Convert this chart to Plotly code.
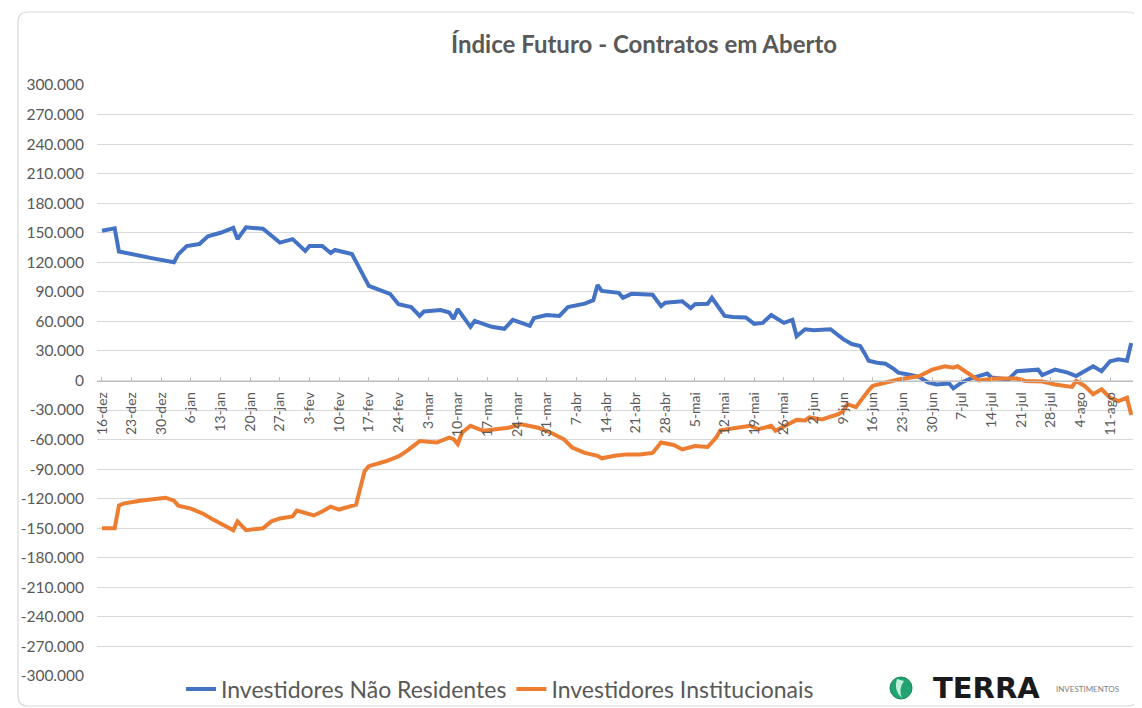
import plotly.graph_objects as go

# ---------------- data ----------------
dates_nr = [
    "2020-12-16", "2020-12-18", "2020-12-19", "2020-12-20", "2020-12-21", "2020-12-25", "2020-12-28",
    "2021-01-02", "2021-01-03", "2021-01-05", "2021-01-08", "2021-01-10", "2021-01-13", "2021-01-16",
    "2021-01-17", "2021-01-19", "2021-01-23", "2021-01-27", "2021-01-30", "2021-02-02", "2021-02-03",
    "2021-02-06", "2021-02-08", "2021-02-09", "2021-02-13", "2021-02-17", "2021-02-20", "2021-02-22",
    "2021-02-24", "2021-02-27", "2021-03-01", "2021-03-02", "2021-03-06", "2021-03-08", "2021-03-09",
    "2021-03-10", "2021-03-13", "2021-03-14", "2021-03-18", "2021-03-21", "2021-03-23", "2021-03-27",
    "2021-03-28", "2021-03-31", "2021-04-03", "2021-04-05", "2021-04-09", "2021-04-11", "2021-04-12",
    "2021-04-13", "2021-04-17", "2021-04-18", "2021-04-20", "2021-04-25", "2021-04-27", "2021-04-28",
    "2021-05-02", "2021-05-04", "2021-05-05", "2021-05-08", "2021-05-09", "2021-05-12", "2021-05-14",
    "2021-05-17", "2021-05-19", "2021-05-21", "2021-05-23", "2021-05-26", "2021-05-28", "2021-05-29",
    "2021-05-31", "2021-06-02", "2021-06-06", "2021-06-09", "2021-06-11", "2021-06-13", "2021-06-14",
    "2021-06-15", "2021-06-17", "2021-06-19", "2021-06-21", "2021-06-22", "2021-06-25", "2021-06-27",
    "2021-06-29", "2021-07-01", "2021-07-04", "2021-07-05", "2021-07-07", "2021-07-09", "2021-07-11",
    "2021-07-13", "2021-07-14", "2021-07-18", "2021-07-20", "2021-07-25", "2021-07-26", "2021-07-29",
    "2021-08-01", "2021-08-03", "2021-08-07", "2021-08-09", "2021-08-11", "2021-08-13", "2021-08-15",
    "2021-08-16",
]
vals_nr = [
    152000, 153500, 154500, 131000, 130000, 126000, 124000,
    120000, 128000, 136500, 138500, 146500, 150000, 155000,
    143500, 155500, 154000, 140000, 143500, 131500, 136500,
    136500, 129500, 132500, 128500, 96000, 91000, 88000,
    77500, 74500, 65500, 70000, 71500, 69000, 62500,
    72500, 54500, 60500, 54500, 52500, 61500, 55500,
    63500, 66500, 65500, 74500, 78000, 81500, 97000,
    91000, 89000, 84000, 88000, 87000, 75500, 79000,
    80500, 73500, 77500, 78000, 84000, 65500, 64500,
    64000, 57500, 58500, 66500, 58500, 61500, 45000,
    52000, 51000, 52000, 42000, 37000, 35000, 28000,
    20000, 18000, 17000, 11500, 8000, 5500, 3500,
    -2000, -4000, -3000, -8000, -2000, 2000, 4500,
    7000, 3000, 1000, 9500, 11000, 5500, 11000,
    8000, 4500, 14500, 9500, 19500, 21500, 20000,
    38000,
]

dates_inst = [
    "2020-12-16", "2020-12-18", "2020-12-19", "2020-12-20", "2020-12-21", "2020-12-25", "2020-12-31",
    "2021-01-02", "2021-01-03", "2021-01-06", "2021-01-09", "2021-01-11", "2021-01-13", "2021-01-16",
    "2021-01-17", "2021-01-19", "2021-01-23", "2021-01-25", "2021-01-27", "2021-01-30", "2021-01-31",
    "2021-02-02", "2021-02-04", "2021-02-06", "2021-02-08", "2021-02-10", "2021-02-14", "2021-02-16",
    "2021-02-17", "2021-02-21", "2021-02-24", "2021-02-26", "2021-03-01", "2021-03-05", "2021-03-08",
    "2021-03-09", "2021-03-10", "2021-03-11", "2021-03-13", "2021-03-16", "2021-03-19", "2021-03-22",
    "2021-03-25", "2021-03-29", "2021-04-01", "2021-04-04", "2021-04-06", "2021-04-09", "2021-04-12",
    "2021-04-13", "2021-04-16", "2021-04-19", "2021-04-22", "2021-04-25", "2021-04-27", "2021-04-30",
    "2021-05-02", "2021-05-05", "2021-05-08", "2021-05-10", "2021-05-11", "2021-05-15", "2021-05-18",
    "2021-05-20", "2021-05-23", "2021-05-24", "2021-05-27", "2021-05-29", "2021-05-31", "2021-06-01",
    "2021-06-04", "2021-06-08", "2021-06-09", "2021-06-10", "2021-06-12", "2021-06-14", "2021-06-15",
    "2021-06-16", "2021-06-19", "2021-06-22", "2021-06-27", "2021-06-30", "2021-07-03", "2021-07-05",
    "2021-07-06", "2021-07-09", "2021-07-11", "2021-07-15", "2021-07-20", "2021-07-22", "2021-07-26",
    "2021-07-29", "2021-08-02", "2021-08-03", "2021-08-05", "2021-08-07", "2021-08-09", "2021-08-11",
    "2021-08-13", "2021-08-15", "2021-08-16",
]
vals_inst = [
    -150000, -150500, -150000, -127000, -125000, -122000, -119000,
    -122000, -127000, -130000, -135500, -140500, -145000, -152000,
    -143000, -152000, -150000, -143000, -140000, -138000, -132000,
    -135000, -137000, -133000, -128000, -131000, -126000, -92000,
    -87000, -82000, -77000, -71500, -61500, -63000, -58000,
    -59500, -64500, -53000, -46000, -51000, -49500, -48000,
    -44500, -48000, -53000, -59500, -68000, -73500, -76500,
    -79000, -76500, -75000, -75000, -73500, -63000, -65500,
    -70000, -66500, -67500, -58000, -50500, -48000, -46000,
    -49500, -46000, -51000, -44500, -40000, -40500, -37500,
    -39500, -34000, -31000, -24000, -27000, -15000, -10000,
    -5500, -2000, 1000, 4500, 11000, 14500, 13000,
    14500, 6000, 0, 2000, 2000, -500, -1000,
    -4000, -6500, -500, -5500, -14000, -9000, -17500,
    -21000, -17500, -35000,
]

series_names = ["Investidores Não Residentes", "Investidores Institucionais"]

xtick_vals = [
    "2020-12-16", "2020-12-23", "2020-12-30", "2021-01-06", "2021-01-13", "2021-01-20", "2021-01-27",
    "2021-02-03", "2021-02-10", "2021-02-17", "2021-02-24", "2021-03-03", "2021-03-10", "2021-03-17",
    "2021-03-24", "2021-03-31", "2021-04-07", "2021-04-14", "2021-04-21", "2021-04-28", "2021-05-05",
    "2021-05-12", "2021-05-19", "2021-05-26", "2021-06-02", "2021-06-09", "2021-06-16", "2021-06-23",
    "2021-06-30", "2021-07-07", "2021-07-14", "2021-07-21", "2021-07-28", "2021-08-04", "2021-08-11",
]
xtick_text = [
    "16-dez", "23-dez", "30-dez", "6-jan", "13-jan", "20-jan", "27-jan",
    "3-fev", "10-fev", "17-fev", "24-fev", "3-mar", "10-mar", "17-mar",
    "24-mar", "31-mar", "7-abr", "14-abr", "21-abr", "28-abr", "5-mai",
    "12-mai", "19-mai", "26-mai", "2-jun", "9-jun", "16-jun", "23-jun",
    "30-jun", "7-jul", "14-jul", "21-jul", "28-jul", "4-ago", "11-ago",
]
ytick_vals = [300000, 270000, 240000, 210000, 180000, 150000, 120000, 90000, 60000, 30000, 0,
              -30000, -60000, -90000, -120000, -150000, -180000, -210000, -240000, -270000, -300000]
ytick_text = ["300.000", "270.000", "240.000", "210.000", "180.000", "150.000", "120.000", "90.000",
              "60.000", "30.000", "0", "-30.000", "-60.000", "-90.000", "-120.000", "-150.000",
              "-180.000", "-210.000", "-240.000", "-270.000", "-300.000"]

# ---------------- layout geometry ----------------
# The page body adds an 8 px margin, so the figure is drawn 8 px smaller and
# every screen position below is shifted by that offset.
OFF = 8
W, H = 1142 - OFF, 708 - OFF
L, R, T, B = 97 - OFF, 1133 - OFF, 85 - OFF, 676 - OFF  # plot area in figure pixels


def px(p):  # screen x pixel -> paper x
    return (p - OFF - L) / (R - L)


def py(q):  # screen y pixel -> paper y
    return (B - (q - OFF)) / (B - T)


FONT = "Lato"
GRAY = "#595959"
BLUE = "#4472c4"
ORANGE = "#ed7d31"

fig = go.Figure()
fig.add_trace(go.Scatter(x=dates_nr, y=vals_nr, mode="lines", name=series_names[0],
                         line=dict(color=BLUE, width=4)))
fig.add_trace(go.Scatter(x=dates_inst, y=vals_inst, mode="lines", name=series_names[1],
                         line=dict(color=ORANGE, width=4)))

# card border (rounded rectangle)
x0, x1, y0, y1 = px(18), px(1138), py(706), py(12)
rx, ry = 10 / (R - L), 10 / (B - T)
card = (f"M {x0 + rx} {y1} L {x1 - rx} {y1} Q {x1} {y1} {x1} {y1 - ry} "
        f"L {x1} {y0 + ry} Q {x1} {y0} {x1 - rx} {y0} L {x0 + rx} {y0} "
        f"Q {x0} {y0} {x0} {y0 + ry} L {x0} {y1 - ry} Q {x0} {y1} {x0 + rx} {y1} Z")

# logo: green globe with a light swoosh
cx0, cx1, cy0, cy1 = px(890), px(912), py(699), py(677)
swoosh = (f"M {px(897)} {py(679)} Q {px(893)} {py(690)} {px(902)} {py(698)} "
          f"Q {px(898)} {py(689)} {px(904)} {py(681)} Z")

shapes = [
    dict(type="path", xref="paper", yref="paper", path=card,
         line=dict(color="#d9d9d9", width=1.2), layer="below"),
    dict(type="circle", xref="paper", yref="paper",
         x0=cx0, x1=cx1, y0=cy0, y1=cy1,
         fillcolor="#22a36f", line=dict(color="#178a5b", width=1)),
    dict(type="path", xref="paper", yref="paper", path=swoosh,
         fillcolor="rgba(220,255,235,0.85)", line=dict(width=0)),
]

annotations = [
    dict(text="<b>TERRA</b>", xref="paper", yref="paper", x=px(931), y=py(688),
         xanchor="left", yanchor="middle", showarrow=False,
         font=dict(family="DejaVu Sans", size=29, color="#1a1a1a", weight=900)),
    dict(text="INVESTIMENTOS", xref="paper", yref="paper", x=px(1054), y=py(689),
         xanchor="left", yanchor="middle", showarrow=False,
         font=dict(family=FONT, size=8, color="#808080")),
]

fig.update_layout(
    width=W, height=H,
    margin=dict(l=L, r=W - R, t=T, b=H - B, autoexpand=False),
    paper_bgcolor="white", plot_bgcolor="white",
    font=dict(family=FONT, color=GRAY),
    title=dict(text="Índice Futuro - Contratos em Aberto", x=(644 - OFF) / W, xanchor="center",
               y=1 - (45 - OFF) / H, yanchor="middle",
               font=dict(family=FONT, size=24, color=GRAY, weight="bold")),
    xaxis=dict(
        type="date", automargin=False,
        range=["2020-12-14 19:45", "2021-08-16 10:00"],
        tickmode="array", tickvals=xtick_vals, ticktext=xtick_text,
        tickangle=-90, tickfont=dict(family=FONT, size=14, color=GRAY),
        anchor="free", position=0.5,
        showline=True, linecolor="#bfbfbf", linewidth=1,
        ticks="inside", ticklen=4, tickcolor="#bfbfbf",
        ticklabelstandoff=5,
        showgrid=False, zeroline=False,
    ),
    yaxis=dict(
        range=[-300000, 300000], automargin=False,
        tickmode="array", tickvals=ytick_vals, ticktext=ytick_text,
        tickfont=dict(family=FONT, size=15.5, color=GRAY),
        showgrid=True, gridcolor="#d9d9d9", gridwidth=1,
        zeroline=False, showline=False, ticks="", ticklabelstandoff=12,
    ),
    legend=dict(orientation="h", x=px(500), xanchor="center", y=py(689), yanchor="middle",
                font=dict(family=FONT, size=23, color=GRAY), bgcolor="rgba(0,0,0,0)",
                itemwidth=30, tracegroupgap=0),
    shapes=shapes,
    annotations=annotations,
    showlegend=True,
)

fig.write_html("out.html")
